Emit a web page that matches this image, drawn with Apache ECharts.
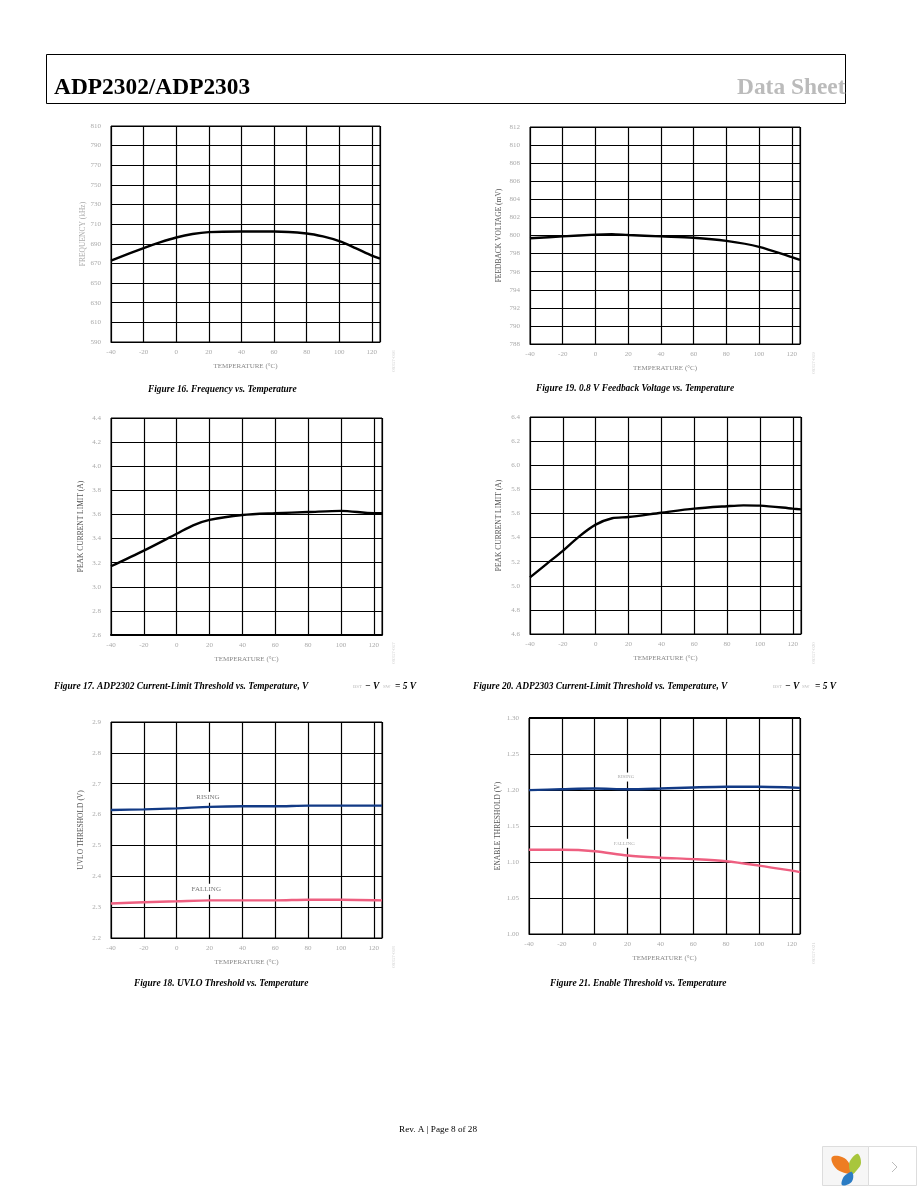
<!DOCTYPE html>
<html>
<head>
<meta charset="utf-8">
<title>ADP2302/ADP2303</title>
<script src="https://cdn.jsdelivr.net/npm/echarts@6/dist/echarts.min.js"></script>
<style>
  html, body { margin: 0; padding: 0; background: #fff; }
  #page { width: 918px; height: 1188px; }
</style>
</head>
<body>
<div id="page"></div>
<script>
// values
const freqTemp = [-40, -20, -10, 0, 10, 20, 40, 60, 80, 90, 100, 110, 120, 125];
const freqVal = [673, 685.6, 691.4, 696.4, 700, 701.9, 702.5, 702.5, 700.5, 697.5, 692.7, 685.6, 678, 675];

const fbTemp = [-40, -20, 0, 10, 20, 40, 60, 80, 100, 120, 125];
const fbVal = [799.7, 799.9, 800.1, 800.15, 800.05, 799.9, 799.75, 799.4, 798.75, 797.6, 797.3];

const limit2302Temp = [-40, -20, 0, 10, 20, 40, 60, 80, 100, 120, 125];
const limit2302Val = [3.17, 3.3, 3.44, 3.51, 3.555, 3.595, 3.61, 3.62, 3.63, 3.61, 3.61];

const limit2303Temp = [-40, -30, -20, -10, 0, 10, 20, 40, 60, 80, 90, 100, 120, 125];
const limit2303Val = [5.07, 5.18, 5.29, 5.41, 5.507, 5.56, 5.57, 5.606, 5.64, 5.66, 5.667, 5.665, 5.64, 5.634];

const uvloTemp = [-40, -20, 0, 20, 40, 60, 80, 100, 125];
const uvloRising = [2.615, 2.617, 2.62, 2.625, 2.627, 2.627, 2.629, 2.629, 2.629];
const uvloFalling = [2.312, 2.316, 2.319, 2.322, 2.322, 2.322, 2.324, 2.324, 2.322];

const enableTemp = [-40, -20, 0, 20, 40, 60, 80, 100, 120, 125];
const enableRising = [1.1998, 1.201, 1.202, 1.201, 1.202, 1.2035, 1.2045, 1.2045, 1.2035, 1.203];
const enableFalling = [1.117, 1.117, 1.115, 1.109, 1.106, 1.104, 1.101, 1.095, 1.088, 1.086];

const SERIF = '"Liberation Serif", serif';
const BLUE = '#123a85';
const PINK = '#ee5f80';

function zip(xs, ys) {
  return xs.map((x, i) => [x, ys[i]]);
}

function tag(text, x, y, color, size) {
  return {
    coord: [x, y], symbol: 'circle', symbolSize: 1,
    itemStyle: { color: 'rgba(0,0,0,0)' },
    label: {
      show: true, position: 'inside', formatter: text, color: color, fontSize: size, fontFamily: SERIF,
      backgroundColor: '#fff', padding: [2, 1]
    }
  };
}

function line(xs, ys, color, extra) {
  return Object.assign({
    type: 'line', data: zip(xs, ys), smooth: 0.3, showSymbol: false, silent: true,
    lineStyle: { color: color, width: 2.4 }
  }, extra || {});
}

const charts = [
  { box: [111, 126, 380, 342], min: 590, max: 810, step: 20, dec: 0, name: 'FREQUENCY (kHz)', nameColor: '#aaa', nameGap: 24,
    series: [line(freqTemp, freqVal, '#000')] },
  { box: [530, 127, 800, 344], min: 788, max: 812, step: 2, dec: 0, name: 'FEEDBACK VOLTAGE (mV)', nameColor: '#555', nameGap: 27,
    series: [line(fbTemp, fbVal, '#000')] },
  { box: [111, 418, 382, 635], min: 2.6, max: 4.4, step: 0.2, dec: 1, name: 'PEAK CURRENT LIMIT (A)', nameColor: '#555', nameGap: 26, thickBottom: true,
    series: [line(limit2302Temp, limit2302Val, '#000')] },
  { box: [530, 417, 801, 634], min: 4.6, max: 6.4, step: 0.2, dec: 1, name: 'PEAK CURRENT LIMIT (A)', nameColor: '#555', nameGap: 27,
    series: [line(limit2303Temp, limit2303Val, '#000')] },
  { box: [111, 722, 382, 938], min: 2.2, max: 2.9, step: 0.1, dec: 1, name: 'UVLO THRESHOLD (V)', nameColor: '#555', nameGap: 26,
    series: [
      line(uvloTemp, uvloRising, BLUE, { markPoint: { silent: true, data: [tag('RISING', 19, 2.656, '#777', 7)] } }),
      line(uvloTemp, uvloFalling, PINK, { markPoint: { silent: true, data: [tag('FALLING', 18, 2.358, '#777', 7)] } })
    ] },
  { box: [529, 718, 800, 934], min: 1, max: 1.3, step: 0.05, dec: 2, name: 'ENABLE THRESHOLD (V)', nameColor: '#555', nameGap: 27,
    series: [
      line(enableTemp, enableRising, BLUE, { markPoint: { silent: true, data: [tag('RISING', 19, 1.218, '#aaa', 5)] } }),
      line(enableTemp, enableFalling, PINK, {
        markPoint: { silent: true, data: [tag('FALLING', 18, 1.126, '#aaa', 5)] },
        markLine: { silent: true, symbol: 'none', label: { show: false }, lineStyle: { color: '#000', width: 2, type: 'solid' }, data: [{ yAxis: 1.3 }] }
      })
    ] }
];

const grid = [], xAxis = [], yAxis = [], series = [];
charts.forEach((c, i) => {
  grid.push({
    left: c.box[0], top: c.box[1], width: c.box[2] - c.box[0], height: c.box[3] - c.box[1],
    show: true, borderColor: '#000', borderWidth: 1, backgroundColor: '#fff'
  });
  xAxis.push({
    type: 'value', gridIndex: i, min: -40, max: 125, interval: 20,
    name: 'TEMPERATURE (°C)', nameLocation: 'middle', nameGap: 21,
    nameTextStyle: { color: '#888', fontSize: 7, fontFamily: SERIF },
    axisLine: { show: true, onZero: false, lineStyle: { color: '#000', width: c.thickBottom ? 2 : 1 } },
    axisTick: { show: false },
    axisLabel: { color: '#aaa', fontSize: 7, fontFamily: SERIF, margin: 7, showMaxLabel: false, hideOverlap: false },
    splitLine: { show: true, lineStyle: { color: '#000', width: 1.2 } }
  });
  yAxis.push({
    type: 'value', gridIndex: i, min: c.min, max: c.max, interval: c.step,
    name: c.name, nameLocation: 'middle', nameGap: c.nameGap,
    nameTextStyle: { color: c.nameColor, fontSize: 7.5, fontFamily: SERIF },
    axisLine: { show: false },
    axisTick: { show: false },
    axisLabel: { color: '#aaa', fontSize: 7, fontFamily: SERIF, margin: 10, formatter: v => v.toFixed(c.dec) },
    splitLine: { show: true, lineStyle: { color: '#000', width: 1.2 } }
  });
  c.series.forEach(s => series.push(Object.assign({ xAxisIndex: i, yAxisIndex: i }, s)));
});

function text(str, x, y, size, color, opts) {
  return {
    type: 'text', x: x, y: y, z: 10, silent: true,
    style: Object.assign({
      text: str, fontSize: size, fill: color, fontFamily: SERIF, textVerticalAlign: 'middle'
    }, opts || {})
  };
}

function caption(str, x, y) {
  return text(str, x, y, 9.4, '#000', { fontStyle: 'italic', fontWeight: 'bold' });
}

function rotated(str, x, y) {
  return {
    type: 'text', x: x, y: y, rotation: Math.PI / 2, z: 10, silent: true,
    style: { text: str, fontSize: 5, fill: '#d0d0d0', fontFamily: SERIF, textAlign: 'center', textVerticalAlign: 'middle' }
  };
}

function petal(points, color) {
  return { type: 'polygon', shape: { points: points, smooth: 0.4 }, style: { fill: color }, silent: true, z: 11 };
}

const graphic = [
  // page header box
  { type: 'rect', shape: { x: 46.5, y: 54.5, width: 799, height: 49 }, style: { fill: 'none', stroke: '#000', lineWidth: 1 }, silent: true },
  text('ADP2302/ADP2303', 54, 88, 23.4, '#000', { fontWeight: 'bold' }),
  text('Data Sheet', 737, 88, 23.4, '#bbb', { fontWeight: 'bold' }),

  // figure captions
  caption('Figure 16. Frequency vs. Temperature', 148, 390),
  caption('Figure 19. 0.8 V Feedback Voltage vs. Temperature', 536, 389),
  caption('Figure 17. ADP2302 Current-Limit Threshold vs. Temperature, V', 54, 686.5),
  text('BST', 353, 687, 5, '#bbb'),
  caption('− V', 365, 686.5),
  text('SW', 383, 687, 5, '#bbb'),
  caption('= 5 V', 395, 686.5),
  caption('Figure 20. ADP2303 Current-Limit Threshold vs. Temperature, V', 473, 686.5),
  text('BST', 773, 687, 5, '#bbb'),
  caption('− V', 785, 686.5),
  text('SW', 802, 687, 5, '#bbb'),
  caption('= 5 V', 815, 686.5),
  caption('Figure 18. UVLO Threshold vs. Temperature', 134, 983.5),
  caption('Figure 21. Enable Threshold vs. Temperature', 550, 984),

  // little document codes beside each plot
  rotated('09357-016', 394, 361),
  rotated('09357-019', 814, 363),
  rotated('09357-017', 394, 653),
  rotated('09357-020', 814, 653),
  rotated('09357-018', 394, 957),
  rotated('09357-021', 814, 953),

  // footer
  text('Rev. A | Page 8 of 28', 399, 1130, 9.2, '#000'),

  // viewer widget, bottom right corner
  { type: 'rect', shape: { x: 822.5, y: 1146.5, width: 46, height: 39 }, style: { fill: '#f6f6f6', stroke: '#ddd', lineWidth: 1 }, silent: true, z: 10 },
  { type: 'rect', shape: { x: 868.5, y: 1146.5, width: 48, height: 39 }, style: { fill: '#fff', stroke: '#ddd', lineWidth: 1 }, silent: true, z: 10 },
  petal([[832, 1157], [842, 1157], [849, 1163], [852, 1173], [842, 1172], [834, 1166]], '#ee7d22'),
  petal([[858, 1154], [861, 1163], [857, 1170], [852, 1174], [849, 1165], [852, 1158]], '#a8c63c'),
  petal([[852, 1172], [853, 1179], [849, 1184], [842, 1185], [843, 1178], [847, 1174]], '#2b7cc4'),
  { type: 'polyline', shape: { points: [[892, 1162], [897, 1167], [892, 1172]] }, style: { fill: 'none', stroke: '#bbb', lineWidth: 1 }, silent: true, z: 11 }
];

const chart = echarts.init(document.getElementById('page'), null, { renderer: 'canvas' });
chart.setOption({
  animation: false,
  backgroundColor: '#fff',
  grid: grid,
  xAxis: xAxis,
  yAxis: yAxis,
  series: series,
  graphic: graphic
});
</script>
</body>
</html>
